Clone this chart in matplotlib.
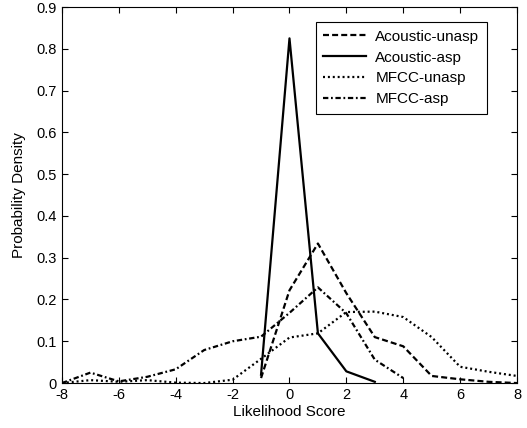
import matplotlib
matplotlib.use('Agg')
from matplotlib import pyplot as plt

plt.rcParams['font.family'] = ['Liberation Sans', 'DejaVu Sans']
plt.rcParams['font.size'] = 10
plt.rcParams['axes.unicode_minus'] = False

# likelihood score grids for each curve
ac_unasp_x = [-1, 0, 1, 2, 3, 4, 5, 6, 7, 8]
ac_unasp_y = [0.012, 0.222, 0.334, 0.215, 0.11, 0.088, 0.017, 0.009, 0.003, 0.0]

ac_asp_x = [-1, 0, 1, 2, 3]
ac_asp_y = [0.02, 0.825, 0.119, 0.028, 0.003]

mfcc_unasp_x = [-8, -7, -6, -5, -4, -3, -2, -1, 0, 1, 2, 3, 4, 5, 6, 7, 8]
mfcc_unasp_y = [0.0, 0.007, 0.003, 0.007, 0.001, 0.0, 0.008, 0.058, 0.109, 0.119, 0.17, 0.171, 0.158, 0.11, 0.039, 0.027, 0.017]

mfcc_asp_x = [-8, -7, -6, -5, -4, -3, -2, -1, 0, 1, 2, 3, 4]
mfcc_asp_y = [0.0, 0.025, 0.004, 0.015, 0.033, 0.079, 0.1, 0.111, 0.168, 0.229, 0.167, 0.056, 0.012]

fig = plt.figure(figsize=(5.27, 4.28), dpi=100)
ax = fig.add_axes([0.1176, 0.105, 0.8634, 0.8786])

lw = 1.6
ax.plot(ac_unasp_x, ac_unasp_y, color='k', lw=lw, linestyle=(0, (2.7, 1.4)), label='Acoustic-unasp')
ax.plot(ac_asp_x, ac_asp_y, color='k', lw=lw, linestyle='-', label='Acoustic-asp')
ax.plot(mfcc_unasp_x, mfcc_unasp_y, color='k', lw=lw, linestyle=(0, (0.9, 1.3)), label='MFCC-unasp')
ax.plot(mfcc_asp_x, mfcc_asp_y, color='k', lw=lw, linestyle=(0, (2.4, 1.2, 0.8, 1.2)), label='MFCC-asp')

ax.set_xlim(-8, 8)
ax.set_ylim(0, 0.9)
ax.set_xticks(range(-8, 9, 2))
ax.set_yticks([i / 10 for i in range(10)])
ax.set_yticklabels(['0'] + ['0.%d' % i for i in range(1, 10)])
ax.tick_params(direction='in', top=True, right=True, length=4, width=0.8, labelsize=10.5)
for s in ax.spines.values():
    s.set_linewidth(0.8)

ax.set_xlabel('Likelihood Score', fontsize=11, labelpad=2)
ax.set_ylabel('Probability Density', fontsize=11, labelpad=8)

leg = ax.legend(loc='upper right', bbox_to_anchor=(0.934, 0.96), borderaxespad=0,
                fancybox=False, edgecolor='k', framealpha=1, fontsize=11, handlelength=2.8,
                labelspacing=0.45, handletextpad=0.6, borderpad=0.5)
leg.get_frame().set_linewidth(0.8)

plt.savefig('out.png', dpi=100)
